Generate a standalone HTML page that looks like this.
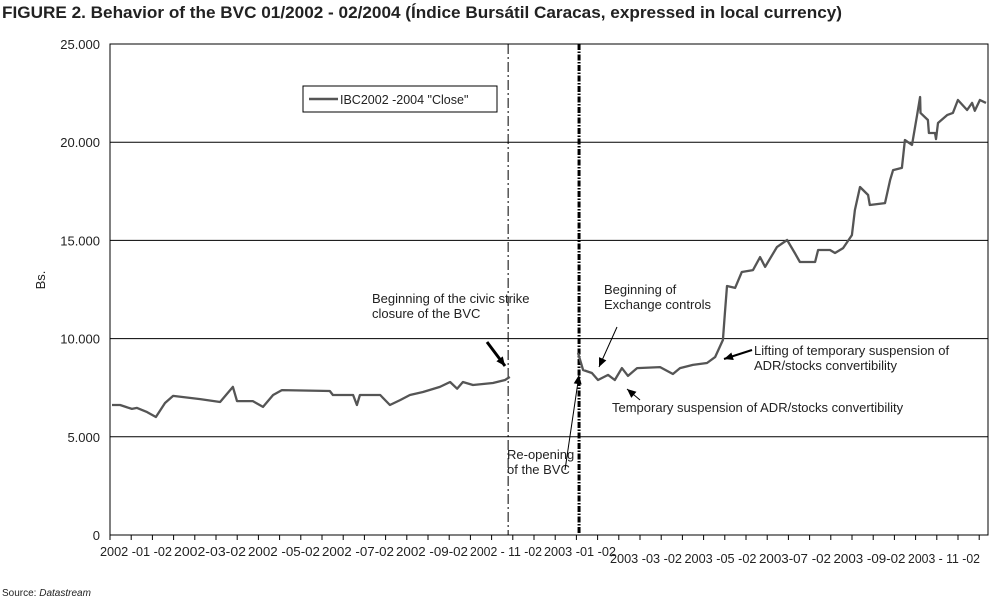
<!DOCTYPE html>
<html><head><meta charset="utf-8"><style>
body{margin:0;background:#fff;}
svg{display:block;font-family:"Liberation Sans",sans-serif;}
</style></head><body>
<svg id="chart" width="990" height="599" viewBox="0 0 990 599">
<text x="2" y="18" font-size="16.5" font-weight="bold" fill="#222" textLength="840" lengthAdjust="spacingAndGlyphs">FIGURE 2. Behavior of the BVC 01/2002 - 02/2004 (Índice Bursátil Caracas, expressed in local currency)</text>
<text x="2" y="596" font-size="10" fill="#222">Source: <tspan font-style="italic">Datastream</tspan></text>
<g id="grid"></g>
<g id="axes"></g>
<g id="series"></g>
<g id="annot"></g>
</svg>
<script>
// months since 2002-01-02
const times = [0.06,0.30,0.65,0.80,1.10,1.36,1.63,1.87,2.67,3.26,3.64,3.76,4.23,4.53,4.83,5.09,6.51,6.60,7.20,7.31,7.40,8.00,8.29,8.59,8.88,9.27,9.77,10.07,10.28,10.45,10.75,11.34,11.70,11.84,
 null,
 13.86,14.01,14.27,14.45,14.75,14.95,15.16,15.34,15.61,16.29,16.67,16.88,17.26,17.68,17.92,18.15,18.21,18.27,18.51,18.71,19.04,19.25,19.40,19.75,20.05,20.28,20.43,20.88,20.97,21.32,21.47,21.71,21.97,22.06,22.21,22.45,22.50,22.95,23.10,23.19,23.45,23.54,23.75,23.90,23.99,24.00,24.22,24.25,24.43,24.46,24.52,24.79,24.96,25.11,25.38,25.53,25.61,25.76,25.94];
const closes = [6620,6620,6420,6470,6260,6010,6720,7080,6920,6770,7540,6820,6820,6520,7130,7380,7330,7130,7130,6620,7130,7130,6620,6870,7130,7280,7540,7790,7450,7790,7640,7740,7890,8050,
 null,
 9270,8400,8250,7890,8150,7890,8500,8100,8500,8550,8200,8500,8660,8760,9060,9930,11300,12680,12580,13390,13490,14150,13650,14660,15020,14360,13900,13900,14510,14510,14360,14610,15270,16550,17720,17310,16800,16900,18070,18580,18690,20110,19860,21380,22300,21490,21130,20470,20470,20160,20980,21380,21490,22150,21640,22000,21600,22150,22000];
const yTicks = [0,5000,10000,15000,20000,25000];
const yTickLabels = ["0","5.000","10.000","15.000","20.000","25.000"];
const xLabels1 = ["2002 -01 -02","2002-03-02","2002 -05-02","2002 -07-02","2002 -09-02","2002 - 11 -02","2003 -01 -02"];
const xLabels2 = ["2003 -03 -02","2003 -05 -02","2003-07 -02","2003 -09-02","2003 - 11 -02"];
const events = [11.79, 13.89];

const X0=110,X1=988,Y0=535,Y1=44,TMAX=26;
const sx=t=>X0+t/TMAX*(X1-X0);
const sy=v=>Y0-v/25000*(Y0-Y1);
const NS="http://www.w3.org/2000/svg";
function mk(tag,attrs,parent,txt){const e=document.createElementNS(NS,tag);for(const k in attrs)e.setAttribute(k,attrs[k]);if(txt!=null)e.textContent=txt;parent.appendChild(e);return e;}
const grid=document.getElementById('grid'),axes=document.getElementById('axes'),ser=document.getElementById('series'),an=document.getElementById('annot');

yTicks.forEach((v,i)=>{
 if(v>0){const l=mk('line',{x1:X0,x2:X1,y1:sy(v),y2:sy(v),stroke:'#000','stroke-width':1},grid);
 
 }
 const t=mk('text',{x:100,y:sy(v)+5,'text-anchor':'end','font-size':13,fill:'#222'},axes,yTickLabels[i]);
 
 
});
mk('rect',{x:X0,y:Y1,width:X1-X0,height:Y0-Y1,fill:'none',stroke:'#000','stroke-width':1},axes);
const yt=mk('text',{x:45,y:280,'font-size':13,fill:'#222',transform:'rotate(-90 45 280)','text-anchor':'middle'},axes,'Bs.');


for(let x=X0;x<=X1;x+=21.2){mk('line',{x1:x,x2:x,y1:Y0,y2:Y0+5,stroke:'#000'},axes);}
xLabels1.forEach((s,i)=>{const t=mk('text',{x:100+i*74,y:556,'font-size':13,fill:'#222',textLength:72,lengthAdjust:'spacingAndGlyphs'},axes,s);
 
 });
xLabels2.forEach((s,i)=>{const t=mk('text',{x:610+i*74.5,y:563,'font-size':13,fill:'#222',textLength:72,lengthAdjust:'spacingAndGlyphs'},axes,s);
 
 });

// event lines
const e1=mk('line',{x1:sx(events[0]),x2:sx(events[0]),y1:Y1,y2:Y0,stroke:'#000','stroke-width':1,'stroke-dasharray':'10,3,2,3'},grid);


const e2=mk('line',{x1:sx(events[1]),x2:sx(events[1]),y1:Y1,y2:Y0,stroke:'#000','stroke-width':3,'stroke-dasharray':'6,1.5,1.5,1.5'},grid);



// series
let d='',start=true;
times.forEach((t,i)=>{if(t==null||closes[i]==null){start=true;return;}d+=(start?'M':'L')+sx(t).toFixed(1)+','+sy(closes[i]).toFixed(1);start=false;});
const p=mk('path',{d:d,fill:'none',stroke:'#555','stroke-width':2.3,'stroke-linejoin':'round'},ser);



// legend
const lg=mk('g',{},an);


mk('rect',{x:303,y:86,width:194,height:26,fill:'#fff',stroke:'#000'},lg);
mk('line',{x1:309,x2:338,y1:99,y2:99,stroke:'#555','stroke-width':2.5},lg);
mk('text',{x:340,y:104,'font-size':12.5,fill:'#222'},lg,'IBC2002 -2004 "Close"');

function label(x,y,lines,name){const t=mk('text',{x:x,y:y,'font-size':13,fill:'#222'},an);
 
 
 lines.forEach((s,i)=>{const ts=mk('tspan',{x:x,dy:i?15:0},t,s);});}
label(372,303,['Beginning of the civic strike','closure of the BVC'],'strike-annotation');
label(604,294,['Beginning of','Exchange controls'],'exchange-controls-annotation');
label(754,355,['Lifting of temporary suspension of','ADR/stocks convertibility'],'lifting-annotation');
label(612,412,['Temporary suspension of ADR/stocks convertibility'],'suspension-annotation');
label(507,459,['Re-opening','of the BVC'],'reopening-annotation');
function arrow(x1,y1,x2,y2,w,name){const g=mk('g',{},an);
 
 
 mk('line',{x1:x1,y1:y1,x2:x2,y2:y2,stroke:'#000','stroke-width':w},g);
 const a=Math.atan2(y2-y1,x2-x1),L=9,W=4;
 const bx=x2-L*Math.cos(a),by=y2-L*Math.sin(a);
 mk('polygon',{points:`${x2},${y2} ${bx-W*Math.sin(a)},${by+W*Math.cos(a)} ${bx+W*Math.sin(a)},${by-W*Math.cos(a)}`,fill:'#000'},g);}
arrow(487,342,505,366,3,'strike-arrow');
arrow(617,327,599,367,1,'exchange-arrow');
arrow(752,350,724,359,2,'lifting-arrow');
arrow(640,400,627,389,1,'suspension-arrow');
arrow(565,470,579,375,1,'reopening-arrow');
</script>
</body></html>
